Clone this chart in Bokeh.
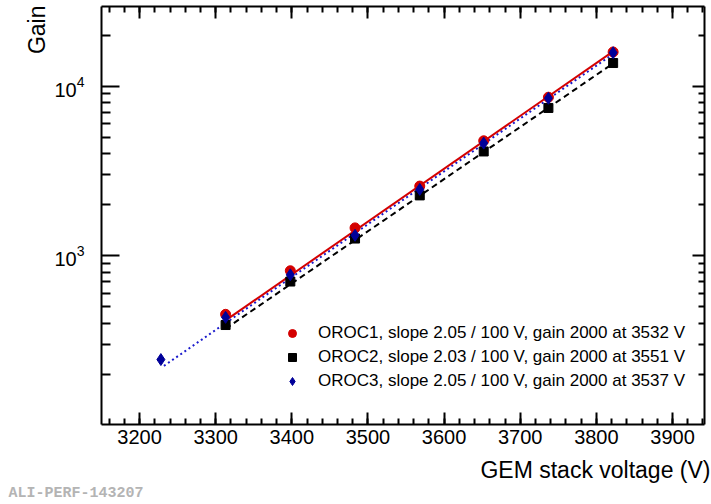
from bokeh.plotting import figure
from bokeh.models import FixedTicker, LinearAxis, LogAxis, Legend, LegendItem, Title
from bokeh.embed import file_html
from bokeh.resources import INLINE

# ---- data ----
voltage = [3313, 3398, 3483, 3568, 3652, 3737, 3822]
oroc1_gain = [451, 815, 1459, 2574, 4761, 8606, 15906]
oroc2_gain = [390, 704, 1262, 2268, 4119, 7436, 13690]
oroc3_voltage = [3228, 3313, 3398, 3483, 3568, 3652, 3737, 3822]
oroc3_gain = [244, 433, 771, 1319, 2461, 4613, 8486, 15750]

# fit parameters (as stated in the legend) and fitted voltage ranges
names = ["OROC1", "OROC2", "OROC3"]
fit_slope = [2.05, 2.03, 2.05]
fit_v2000 = [3532, 3551, 3537]
fit_vmin = [3313, 3313, 3232]
fit_vmax = [3822, 3822, 3822]

x_major = [3200, 3300, 3400, 3500, 3600, 3700, 3800, 3900]
x_minor = list(range(3160, 3941, 20))
y_major = [1000, 10000]
y_minor = [200, 300, 400, 500, 600, 700, 800, 900,
           2000, 3000, 4000, 5000, 6000, 7000, 8000, 9000, 20000]

FONT = "Liberation Sans"

p = figure(width=711, height=504, x_range=(3150, 3942), y_range=(101, 29500),
           y_axis_type="log", output_backend="svg", toolbar_location=None,
           min_border_left=101, min_border_right=7, min_border_top=6,
           min_border_bottom=80)
p.grid.visible = False
p.outline_line_color = None
p.background_fill_color = "white"
p.border_fill_color = "white"

bottom = p.below[0]
left = p.left[0]
top = LinearAxis()
right = LogAxis()
p.add_layout(top, "above")
p.add_layout(right, "right")

for ax in [bottom, top]:
    ax.ticker = FixedTicker(ticks=x_major, minor_ticks=x_minor)
    ax.major_tick_in = 12
    ax.minor_tick_in = 6
for ax in [left, right]:
    ax.ticker = FixedTicker(ticks=y_major, minor_ticks=y_minor)
left.major_tick_in = 18
left.minor_tick_in = 9
right.major_tick_in = 12
right.minor_tick_in = 6

for ax in [bottom, top, left, right]:
    ax.major_tick_out = 0
    ax.minor_tick_out = 0
    ax.axis_line_width = 2
    ax.major_tick_line_width = 2
    ax.minor_tick_line_width = 2
    ax.axis_line_color = "black"
    ax.major_tick_line_color = "black"
    ax.minor_tick_line_color = "black"
    ax.major_label_text_font = FONT
    ax.major_label_text_color = "black"

for ax in [top, right]:
    ax.major_label_text_font_size = "1px"
    ax.major_label_text_alpha = 0
    ax.major_label_standoff = 0

bottom.major_label_text_font_size = "20px"
bottom.major_label_standoff = 5
left.major_label_text_font_size = "20px"
left.major_label_standoff = 17

# fit lines
line_colors = ["#d40000", "black", "#1a1acc"]
line_dash = ["solid", "6 4", "2 3"]
for i in [1, 2, 0]:
    xs = [fit_vmin[i], fit_vmax[i]]
    ys = [2000 * fit_slope[i] ** ((v - fit_v2000[i]) / 100.0) for v in xs]
    p.line(xs, ys, line_color=line_colors[i], line_width=2, line_dash=line_dash[i])

r1 = p.scatter(voltage, oroc1_gain, marker="circle", size=10,
               fill_color="#d40000", line_color="#d40000")
r2 = p.scatter(voltage, oroc2_gain, marker="square", size=9,
               fill_color="black", line_color="black")
r3 = p.scatter(oroc3_voltage, oroc3_gain, marker="diamond", size=12,
               fill_color="#000099", line_color="#000099")

labels = ["%s, slope %.2f / 100 V, gain 2000 at %d V" % (n, s, v)
          for n, s, v in zip(names, fit_slope, fit_v2000)]
legend = Legend(items=[LegendItem(label=labels[0], renderers=[r1]),
                       LegendItem(label=labels[1], renderers=[r2]),
                       LegendItem(label=labels[2], renderers=[r3])],
                location=(181, 31))
legend.padding = 0
legend.margin = 0
legend.spacing = 0
legend.glyph_width = 20
legend.glyph_height = 24
legend.label_height = 24
legend.label_standoff = 16
legend.label_text_font = FONT
legend.label_text_font_size = "17px"
legend.label_text_color = "black"
legend.border_line_color = None
legend.background_fill_alpha = 0
p.add_layout(legend, "center")

xlabel = Title(text="GEM stack voltage (V)", align="right", text_font=FONT,
               text_font_size="23px", text_font_style="normal",
               text_color="black", standoff=16, offset=-6)
p.add_layout(xlabel, "below")
ali = Title(text="ALI-PERF-143207", align="left", text_font="Liberation Mono",
            text_font_size="15px", text_font_style="bold", text_color="#b4b4b4",
            offset=-93)
try:
    ali.standoff = -16
except Exception:
    ali.standoff = 0
    xlabel.standoff = 10
p.add_layout(ali, "below")
ylabel = Title(text="Gain", align="right", text_font=FONT, text_font_size="23px",
               text_font_style="normal", text_color="black", standoff=4, offset=-1)
p.add_layout(ylabel, "left")

open("out.html", "w").write(file_html(p, INLINE))
